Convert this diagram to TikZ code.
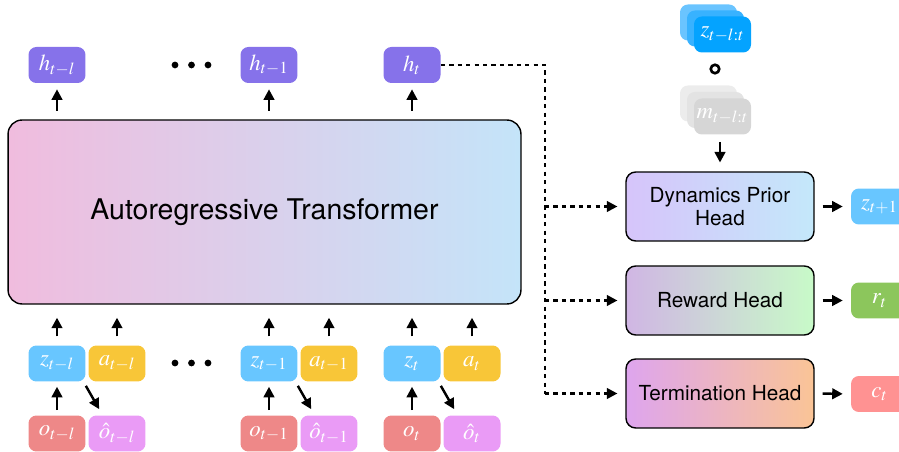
\documentclass[tikz,border=0pt]{standalone}
\usepackage{mathptmx}
\usepackage{fontspec}
\newfontfamily\headfont{TeX Gyre Heros}
\usetikzlibrary{arrows.meta, positioning, calc}

\definecolor{hcol}{RGB}{134,114,234}
\definecolor{zcol}{RGB}{104,198,255}
\definecolor{acol}{RGB}{248,198,56}
\definecolor{ocol}{RGB}{238,136,136}
\definecolor{ohcol}{RGB}{234,155,246}
\definecolor{rcol}{RGB}{140,198,92}
\definecolor{ccol}{RGB}{255,146,146}
\definecolor{zsa}{RGB}{106,196,255}
\definecolor{zsb}{RGB}{56,178,255}
\definecolor{zsc}{RGB}{4,163,255}
\definecolor{msa}{RGB}{236,236,236}
\definecolor{msb}{RGB}{227,227,227}
\definecolor{msc}{RGB}{214,214,214}

\begin{document}
\begin{tikzpicture}[x=0.02cm, y=-0.02cm,
        tok/.style={rounded corners=4.5pt, minimum width=1.14cm, minimum height=0.72cm, inner sep=0pt, text=white, font=\fontsize{13}{15}\selectfont},
        head/.style={draw, line width=0.8pt, rounded corners=5.5pt, minimum width=3.76cm, minimum height=1.38cm, align=center, font=\headfont\fontsize{11.8}{13.5}\selectfont},
        arr/.style={-{Triangle[length=6pt,width=6pt]}, line width=1.4pt},
        dsh/.style={line width=1.3pt, dash pattern=on 2.4pt off 2.4pt},
        dot/.style={circle, fill, inner sep=0pt, minimum size=0.135cm},
      ]
        \useasboundingbox (0,0) rectangle (899,452);

        % Transformer
        \node[draw, line width=0.8pt, rounded corners=8pt, minimum width=10.26cm, minimum height=3.68cm,
              left color={rgb,255:red,240;green,188;blue,222}, middle color={rgb,255:red,218;green,206;blue,236},
              right color={rgb,255:red,196;green,228;blue,249},
              font=\headfont\fontsize{16.2}{19}\selectfont] (tf) at (264.5,212) {Autoregressive Transformer};

        % token columns
        \foreach \i/\x/\sub in {1/57/{t-l}, 2/269/{t-1}, 3/412/t} {
          \node[tok, fill=hcol] (h\i) at (\x,65) {$h_{\sub}$};
          \node[tok, fill=zcol] (z\i) at (\x,363.5) {$z_{\sub}$};
          \node[tok, fill=acol] (a\i) at (\x+60,363.5) {$a_{\sub}$};
          \node[tok, fill=ocol] (o\i) at (\x,433.5) {$o_{\sub}$};
          \node[tok, fill=ohcol] (oh\i) at (\x+60,433.5) {$\hat{o}_{\sub}$};
          \draw[arr, shorten <=5pt, shorten >=3.4pt] (h\i |- tf.north) -- (h\i.south);
          \draw[arr, shorten <=5pt, shorten >=7.4pt] (z\i.north) -- (z\i |- tf.south);
          \draw[arr, shorten <=5pt, shorten >=7.4pt] (a\i.north) -- (a\i |- tf.south);
          \draw[arr, shorten <=2.8pt, shorten >=2.8pt] (o\i.north) -- (z\i.south);
          \draw[arr] ([shift={(0,4)}]z\i.south east) -- ([shift={(11,-6)}]oh\i.north west);
        }

        % dots
        \foreach \y in {65,363} {
          \foreach \x in {175,191.5,208} {
            \node[dot] (dot\x-\y) at (\x,\y) {};
          }
        }

        % heads
        \node[head, left color={rgb,255:red,214;green,196;blue,250}, right color={rgb,255:red,196;green,232;blue,250}] (dyn) at (720,206.5) {Dynamics Prior\\Head};
        \node[head, left color={rgb,255:red,208;green,182;blue,228}, middle color={rgb,255:red,180;green,226;blue,208}, right color={rgb,255:red,200;green,250;blue,200}] (rew) at (720,300.5) {Reward Head};
        \node[head, left color={rgb,255:red,222;green,165;blue,238}, middle color={rgb,255:red,242;green,186;blue,180}, right color={rgb,255:red,250;green,196;blue,150}] (term) at (720,393.5) {Termination Head};

        % outputs
        \node[tok, fill=zcol] (zn) at (879.5,206.5) {$z_{t+1}$};
        \node[tok, fill=rcol] (rt) at (879.5,300.5) {$r_t$};
        \node[tok, fill=ccol] (ct) at (879.5,394) {$c_t$};
        \draw[arr, shorten <=4.5pt, shorten >=4.5pt] (dyn.east) -- (zn.west);
        \draw[arr, shorten <=4.5pt, shorten >=4.5pt] (rew.east) -- (rt.west);
        \draw[arr, shorten <=4.5pt, shorten >=4.5pt] (term.east) -- (ct.west);

        % h_t to heads (dashed)
        \coordinate (bus) at (545,65);
        \draw[dsh] (h3.east) -- (bus) -- (bus |- term.west);
        \foreach \n in {dyn, rew, term} {
          \draw[dsh, -{Triangle[length=6pt,width=6pt]}, shorten >=4.5pt] (bus |- \n.west) -- (\n.west);
        }

        % stacked latents and mask
        \node[tok, fill=zsa] (zs1) at (708.5,22.5) {};
        \node[tok, fill=zsb] (zs2) at (715.5,28.5) {};
        \node[tok, fill=zsc] (zs3) at (722.5,34.5) {$z_{t-l:t}$};
        \node[circle, draw, line width=1.5pt, inner sep=0pt, minimum size=0.17cm] (comp) at (715,69) {};
        \node[tok, fill=msa] (ms1) at (708.5,103.5) {};
        \node[tok, fill=msb] (ms2) at (715.5,110) {};
        \node[tok, fill=msc] (ms3) at (722.5,116.5) {$m_{t-l:t}$};
        \draw[arr, shorten <=4pt, shorten >=5pt] (dyn.north |- ms3.south) -- (dyn.north);
      \end{tikzpicture}
\end{document}
